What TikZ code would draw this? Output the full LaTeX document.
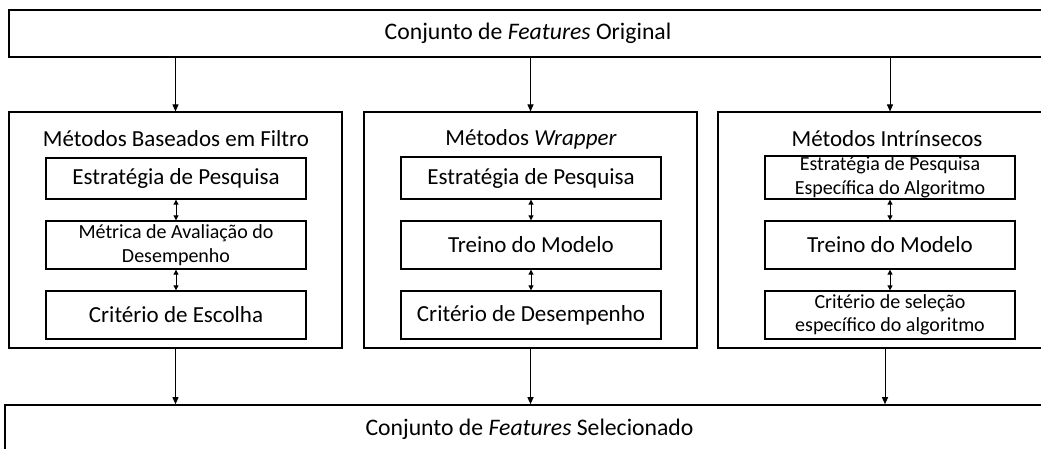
\documentclass[tikz,border=0pt]{standalone}
\usepackage{fontspec}
\setmainfont{Carlito}
\usetikzlibrary{arrows.meta}
\begin{document}
\begin{tikzpicture}[x=1pt,y=-1pt,
  frame/.style={draw, line width=1.6pt, inner sep=0pt},
  panel/.style={draw, line width=1.1pt, minimum width=333pt, minimum height=236pt, inner sep=0pt},
  stepbox/.style={draw, line width=1.3pt, minimum width=260pt, inner sep=0pt, align=center},
  head/.style={font=\fontsize{23.7}{26}\selectfont},
  title/.style={font=\fontsize{23}{25}\selectfont},
  big/.style={font=\fontsize{23}{25}\selectfont},
  small/.style={font=\fontsize{20}{23.5}\selectfont},
  flow/.style={-{Triangle[length=7pt,width=6pt]}, line width=0.9pt},
  link/.style={{Triangle[length=5pt,width=5pt]}-{Triangle[length=5pt,width=5pt]}, line width=0.9pt}]
\useasboundingbox (0,0) rectangle (1041,448);

% input and output feature sets
\node[frame, head, minimum width=1038pt, minimum height=47pt]
  (orig) at (528,33.5) {Conjunto de \textit{Features} Original};
\node[frame, minimum width=1049pt, minimum height=65pt]
  (sel) at (529.5,437.5) {};
\node[head] (selt) at (529.5,429) {Conjunto de \textit{Features} Selecionado};

% the three families of methods
\node[panel] (filt) at (175.5,230) {};
\node[panel] (wrap) at (530.5,230) {};
\node[panel, minimum width=344pt] (intr) at (890,230) {};

\node[title] (filtT) at (176,139) {Métodos Baseados em Filtro};
\node[title] (wrapT) at (531,139) {Métodos \textit{Wrapper}};
\node[title] (intrT) at (887,139) {Métodos Intrínsecos};

% filter methods
\node[stepbox, big, minimum height=41pt] (f1) at (176,178.5) {Estratégia de Pesquisa};
\node[stepbox, small, minimum height=48pt] (f2) at (176,245) {Métrica de Avaliação do\\Desempenho};
\node[stepbox, big, minimum height=48pt] (f3) at (176,315) {Critério de Escolha};

% wrapper methods
\node[stepbox, big, minimum height=42pt] (w1) at (531,178) {Estratégia de Pesquisa};
\node[stepbox, big, minimum height=48pt] (w2) at (531,245) {Treino do Modelo};
\node[stepbox, big, minimum height=48pt] (w3) at (531,315) {Critério de Desempenho};

% intrinsic methods
\node[stepbox, small, minimum width=250pt, minimum height=43pt] (i1) at (890,177.5) {Estratégia de Pesquisa\\Específica do Algoritmo};
\node[stepbox, big, minimum width=250pt, minimum height=48pt] (i2) at (890,245) {Treino do Modelo};
\node[stepbox, small, minimum width=250pt, minimum height=48pt] (i3) at (890,315) {Critério de seleção\\específico do algoritmo};

% flow from the original set to each family
\foreach \p in {filt,wrap,intr}
  \draw[flow] (orig.south -| \p.north) -- (\p.north);
% flow from each family to the selected set
\coordinate (iout) at ([xshift=-5pt]intr.south);
\draw[flow] (filt.south) -- (sel.north -| filt.south);
\draw[flow] (wrap.south) -- (sel.north -| wrap.south);
\draw[flow] (iout) -- (sel.north -| iout);

% links between the steps
\foreach \a/\b in {f1/f2,f2/f3,w1/w2,w2/w3,i1/i2,i2/i3}
  \draw[link] (\a.south) -- (\b.north);
\end{tikzpicture}
\end{document}
